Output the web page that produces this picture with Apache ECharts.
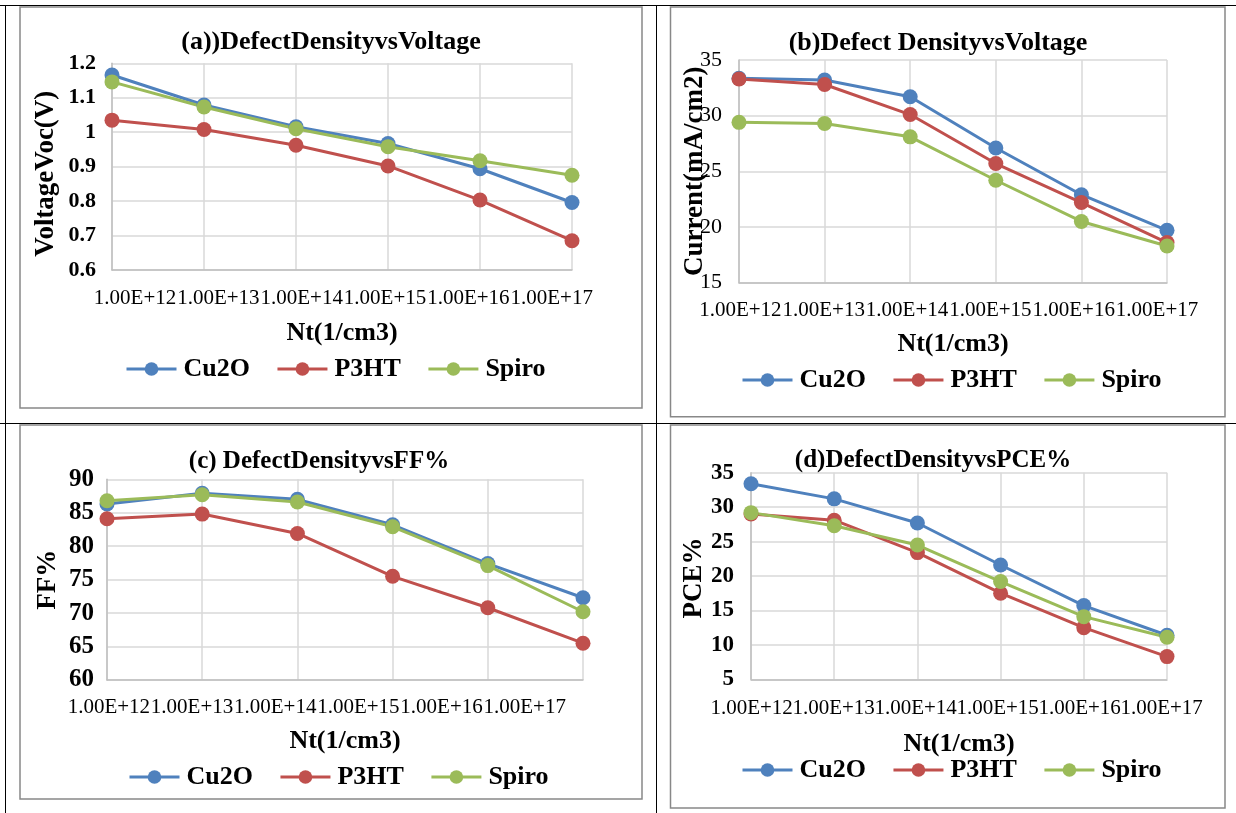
<!DOCTYPE html>
<html>
<head>
<meta charset="utf-8">
<script src="https://cdn.jsdelivr.net/npm/echarts@6/dist/echarts.min.js"></script>
<style>
html,body{margin:0;padding:0;background:#fff;}
#chart{width:1236px;height:813px;}
</style>
</head>
<body>
<div id="chart"></div>
<script>
// ---------- data ----------
const categories = ['1.00E+12','1.00E+13','1.00E+14','1.00E+15','1.00E+16','1.00E+17'];
const seriesNames = ['Cu2O','P3HT','Spiro'];

const vocCu2O  = [1.166, 1.079, 1.016, 0.967, 0.894, 0.796];
const vocP3HT  = [1.035, 1.008, 0.962, 0.902, 0.803, 0.685];
const vocSpiro = [1.146, 1.073, 1.010, 0.958, 0.917, 0.875];

const jscCu2O  = [33.35, 33.2, 31.7, 27.1, 22.9, 19.7];
const jscP3HT  = [33.3, 32.8, 30.1, 25.7, 22.2, 18.6];
const jscSpiro = [29.4, 29.3, 28.1, 24.2, 20.5, 18.3];

const ffCu2O   = [86.3, 87.9, 87.0, 83.2, 77.4, 72.3];
const ffP3HT   = [84.1, 84.8, 81.9, 75.5, 70.8, 65.5];
const ffSpiro  = [86.8, 87.7, 86.6, 82.9, 77.1, 70.2];

const pceCu2O  = [33.4, 31.2, 27.7, 21.6, 15.7, 11.4];
const pceP3HT  = [29.0, 28.1, 23.4, 17.5, 12.5, 8.3];
const pceSpiro = [29.2, 27.3, 24.5, 19.2, 14.1, 11.1];

const titles = ['(a))DefectDensityvsVoltage','(b)Defect DensityvsVoltage','(c) DefectDensityvsFF%','(d)DefectDensityvsPCE%'];
const yNames = ['VoltageVoc(V)','Current(mA/cm2)','FF%','PCE%'];
const xName = 'Nt(1/cm3)';
const yRanges = [[0.6,1.2,0.1],[15,35,5],[60,90,5],[5,35,5]];
const panelData = [
  [vocCu2O, vocP3HT, vocSpiro],
  [jscCu2O, jscP3HT, jscSpiro],
  [ffCu2O, ffP3HT, ffSpiro],
  [pceCu2O, pceP3HT, pceSpiro]
];

// ---------- layout / style ----------
const FONT = "'Times New Roman','Liberation Serif',serif";
const colors = ['#4F81BD','#C0504D','#9BBB59'];
const layout = [
  {grid:{left:112,top:63.3,width:460,height:206.7}, lab:{left:93.4,width:500,margin:18},
   title:{x:331,y:29,size:26}, yNameGap:52, yNamePad:[0,14,0,0], xNameGap:50, tick:{bold:true,size:22,margin:16},
   legend:{left:125,top:356}},
  {grid:{left:739,top:60,width:428,height:222.7}, lab:{left:698.7,width:500,margin:17},
   title:{x:938,y:30,size:26}, yNameGap:30, yNamePad:[0,0,0,0], xNameGap:49, tick:{bold:false,size:22,margin:17},
   legend:{left:741,top:367}},
  {grid:{left:107,top:479.3,width:476,height:200.7}, lab:{left:67.3,width:499,margin:17},
   title:{x:319,y:449,size:25}, yNameGap:45, yNamePad:[0,0,0,0], xNameGap:48, tick:{bold:true,size:25,margin:13},
   legend:{left:128,top:764}},
  {grid:{left:751,top:472.7,width:416,height:206.6}, lab:{left:710.6,width:492,margin:19},
   title:{x:933,y:448,size:25}, yNameGap:43, yNamePad:[0,4,0,0], xNameGap:52, tick:{bold:true,size:23,margin:17},
   legend:{left:741,top:757}}
];

const grids = [], xAxes = [], yAxes = [], series = [], titleComps = [], legends = [];

layout.forEach((L, i) => {
  grids.push({left:L.grid.left, top:L.grid.top, width:L.grid.width, height:L.grid.height, containLabel:false});
  xAxes.push({
    gridIndex:i, type:'category', data:categories, boundaryGap:false,
    axisLine:{show:true, lineStyle:{color:'#BFBFBF', width:1.5}},
    axisTick:{show:false}, axisLabel:{show:false},
    splitLine:{show:true, lineStyle:{color:'#D9D9D9', width:1.5}},
    name:xName, nameLocation:'middle', nameGap:L.xNameGap, nameMoveOverlap:false,
    nameTextStyle:{fontFamily:FONT, fontWeight:'bold', fontSize:26, color:'#000'}
  });
  const r = yRanges[i];
  yAxes.push({
    gridIndex:i, type:'value', min:r[0], max:r[1], interval:r[2],
    axisLine:{show:true, lineStyle:{color:'#BFBFBF', width:1.5}},
    axisTick:{show:false},
    axisLabel:{fontFamily:FONT, fontWeight:L.tick.bold?'bold':'normal', fontSize:L.tick.size, color:'#000', margin:L.tick.margin},
    splitLine:{show:true, lineStyle:{color:'#D9D9D9', width:1.5}},
    name:yNames[i], nameLocation:'middle', nameGap:L.yNameGap, nameRotate:90, nameMoveOverlap:false,
    nameTextStyle:{fontFamily:FONT, fontWeight:'bold', fontSize:27, color:'#000', padding:L.yNamePad}
  });
  panelData[i].forEach((vals, s) => {
    series.push({
      type:'line', name:seriesNames[s], xAxisIndex:i, yAxisIndex:i, data:vals,
      symbol:'circle', symbolSize:15, showSymbol:true,
      lineStyle:{color:colors[s], width:3},
      itemStyle:{color:colors[s]},
      emphasis:{disabled:true}, animation:false
    });
  });
  titleComps.push({
    text:titles[i], left:L.title.x, top:L.title.y, textAlign:'center', padding:0,
    textStyle:{fontFamily:FONT, fontWeight:'bold', fontSize:L.title.size, color:'#000'}
  });
  legends.push({
    data:seriesNames, left:L.legend.left, top:L.legend.top, orient:'horizontal',
    itemWidth:50, itemHeight:17, itemGap:26, padding:0, selectedMode:false,
    lineStyle:{width:3},
    textStyle:{fontFamily:FONT, fontWeight:'bold', fontSize:26, color:'#000', padding:[0,0,0,2]}
  });
});

// label-only axes (tick labels laid out at fixed pitch, as in the reference)
layout.forEach((L, i) => {
  const gi = grids.length;
  grids.push({left:L.lab.left, top:L.grid.top + L.grid.height - 10, width:L.lab.width, height:10, show:false});
  xAxes.push({
    gridIndex:gi, type:'category', data:categories, boundaryGap:true,
    axisLine:{show:false}, axisTick:{show:false}, splitLine:{show:false},
    axisLabel:{interval:0, hideOverlap:false, fontFamily:FONT, fontSize:21, color:'#000', margin:L.lab.margin}
  });
  yAxes.push({gridIndex:gi, type:'value', show:false});
});

// frames: table lines and chart-area boxes
const graphic = [
  {type:'line', shape:{x1:0,y1:5.5,x2:1236,y2:5.5}, style:{stroke:'#000',lineWidth:1}},
  {type:'line', shape:{x1:0,y1:423.5,x2:1236,y2:423.5}, style:{stroke:'#000',lineWidth:1}},
  {type:'line', shape:{x1:5.5,y1:5,x2:5.5,y2:813}, style:{stroke:'#000',lineWidth:1}},
  {type:'line', shape:{x1:656.5,y1:5,x2:656.5,y2:813}, style:{stroke:'#000',lineWidth:1}},
  {type:'rect', shape:{x:20,y:7,width:622,height:401}, style:{fill:null,stroke:'#888',lineWidth:1.5}},
  {type:'rect', shape:{x:670.5,y:7,width:554.5,height:409.7}, style:{fill:null,stroke:'#888',lineWidth:1.5}},
  {type:'rect', shape:{x:20,y:425,width:622,height:374}, style:{fill:null,stroke:'#888',lineWidth:1.5}},
  {type:'rect', shape:{x:670.5,y:425,width:554.5,height:383}, style:{fill:null,stroke:'#888',lineWidth:1.5}}
];

const chart = echarts.init(document.getElementById('chart'), null, {renderer:'canvas'});
chart.setOption({
  animation:false,
  backgroundColor:'#fff',
  title:titleComps,
  legend:legends,
  grid:grids,
  xAxis:xAxes,
  yAxis:yAxes,
  series:series,
  graphic:graphic
});
</script>
</body>
</html>
